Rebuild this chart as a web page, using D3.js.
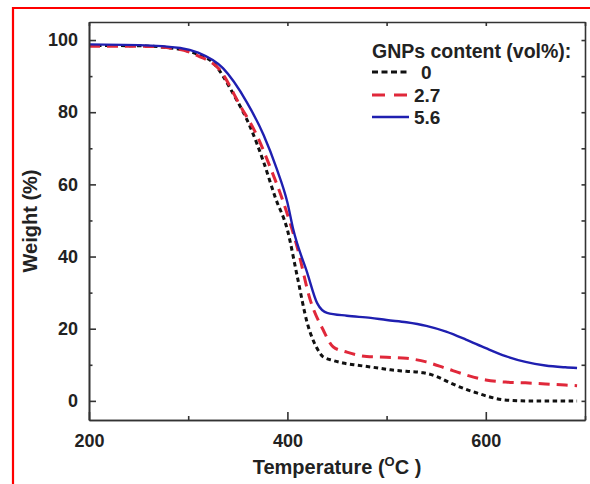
<!DOCTYPE html>
<html>
<head>
<meta charset="utf-8">
<script src="https://cdn.jsdelivr.net/npm/d3@7"></script>
<style>
  html, body { margin: 0; padding: 0; background: #fff; }
  svg { display: block; }
  text { font-family: "Liberation Sans", Arial, "DejaVu Sans", sans-serif; font-weight: bold; fill: #222; }
</style>
</head>
<body>
<script>
// ---------- data ----------
const temp0 = [200, 250, 290, 310, 324, 346, 363, 376, 388, 400, 410, 420, 430, 436, 446, 456, 470, 484, 504, 520, 537, 550, 564, 580, 591, 605, 618, 640, 660, 692];
const weight0 = [98.5, 98.4, 97.5, 96.0, 94.0, 84.8, 75.6, 66.2, 56.2, 47.4, 34.4, 21.6, 14.5, 12.2, 11.2, 10.5, 9.9, 9.4, 8.6, 8.2, 7.8, 6.8, 5.0, 3.2, 2.2, 1.0, 0.3, 0.0, 0.0, 0.0];

const temp27 = [200, 250, 290, 310, 332, 352, 369, 383, 396, 410, 423, 436, 446, 460, 480, 500, 520, 540, 560, 580, 600, 620, 640, 660, 680, 692];
const weight27 = [98.3, 98.3, 97.5, 95.6, 91.7, 82.0, 73.7, 64.5, 55.0, 42.5, 28.0, 19.7, 15.0, 13.5, 12.3, 12.1, 11.8, 10.8, 9.0, 7.2, 5.8, 5.2, 5.0, 4.7, 4.4, 4.2];

const temp56 = [200, 250, 292, 310, 335, 359, 376, 389, 400, 406, 420, 430, 440, 460, 484, 500, 520, 540, 560, 580, 600, 620, 640, 660, 680, 692];
const weight56 = [98.8, 98.6, 97.8, 96.5, 92.2, 82.8, 73.7, 64.5, 55.0, 47.4, 35.5, 27.1, 24.4, 23.6, 23.0, 22.4, 21.8, 20.8, 19.2, 17.0, 14.6, 12.4, 10.8, 9.8, 9.3, 9.1];

const seriesLabels = ["0", "2.7", "5.6"];
const legendTitle = "GNPs content (vol%):";
const xTicksMajor = [200, 400, 600];
const xTicksMinor = [300, 500, 700];
const yTicksMajor = [0, 20, 40, 60, 80, 100];
const yTicksMinor = [10, 30, 50, 70, 90];
const xTitle = "Temperature (";
const xTitleSup = "O";
const xTitleEnd = "C )";
const yTitle = "Weight (%)";

// ---------- layout ----------
const W = 590, H = 484;
const m = { left: 89, top: 22, right: 585, bottom: 420 };

const svg = d3.select("body").append("svg").attr("width", W).attr("height", H);
svg.append("rect").attr("width", W).attr("height", H).attr("fill", "#fff");

// red frame of the figure
svg.append("path")
  .attr("d", `M13,${H + 5} L13,8 L${W + 5},8`)
  .attr("fill", "none").attr("stroke", "#f00").attr("stroke-width", 2.2);

const x = d3.scaleLinear().domain([200, 700]).range([m.left, m.right]);
const y = d3.scaleLinear().domain([-5.3, 105]).range([m.bottom, m.top]);

const series = [
  { label: seriesLabels[0], t: temp0, w: weight0, color: "#111", dash: "4.5,3.5", width: 3 },
  { label: seriesLabels[1], t: temp27, w: weight27, color: "#e0283a", dash: "11,7", width: 3 },
  { label: seriesLabels[2], t: temp56, w: weight56, color: "#1f1fb0", dash: null, width: 2.4 }
];

const line = d3.line().x(d => x(d[0])).y(d => y(d[1])).curve(d3.curveMonotoneX);

const plot = svg.append("g");
series.forEach(s => {
  plot.append("path")
    .datum(s.t.map((t, i) => [t, s.w[i]]))
    .attr("d", line)
    .attr("fill", "none")
    .attr("stroke", s.color)
    .attr("stroke-width", s.width)
    .attr("stroke-dasharray", s.dash)
    .attr("stroke-linecap", "butt");
});

// ---------- axes ----------
const axisColor = "#333";
const fmt = d3.format("d");
function styleAxis(g) {
  g.select(".domain").attr("stroke", axisColor).attr("stroke-width", 1.6);
  g.selectAll(".tick line").attr("stroke", axisColor).attr("stroke-width", 1.6);
  g.selectAll(".tick text").attr("font-size", 18).attr("fill", "#222")
    .style("font-family", '"Liberation Sans", Arial, sans-serif').style("font-weight", "bold");
}

// bottom
svg.append("g").attr("transform", `translate(0,${m.bottom})`)
  .call(d3.axisBottom(x).tickValues(xTicksMajor).tickFormat(fmt).tickSizeInner(-8).tickSizeOuter(0).tickPadding(14))
  .call(styleAxis);
svg.append("g").attr("transform", `translate(0,${m.bottom})`)
  .call(d3.axisBottom(x).tickValues(xTicksMinor).tickFormat("").tickSizeInner(-4).tickSizeOuter(0))
  .call(styleAxis);
// top
svg.append("g").attr("transform", `translate(0,${m.top})`)
  .call(d3.axisTop(x).tickValues(xTicksMajor.concat(xTicksMinor)).tickFormat("").tickSizeInner(-4).tickSizeOuter(0))
  .call(styleAxis);
// left
svg.append("g").attr("transform", `translate(${m.left},0)`)
  .call(d3.axisLeft(y).tickValues(yTicksMajor).tickFormat(fmt).tickSizeInner(-7).tickSizeOuter(0).tickPadding(11))
  .call(styleAxis);
svg.append("g").attr("transform", `translate(${m.left},0)`)
  .call(d3.axisLeft(y).tickValues(yTicksMinor).tickFormat("").tickSizeInner(-3.5).tickSizeOuter(0))
  .call(styleAxis);
// right
svg.append("g").attr("transform", `translate(${m.right},0)`)
  .call(d3.axisRight(y).tickValues(yTicksMajor.concat(yTicksMinor)).tickFormat("").tickSizeInner(-3.5).tickSizeOuter(0))
  .call(styleAxis);

// ---------- titles ----------
const xt = svg.append("text")
  .attr("x", (m.left + m.right) / 2).attr("y", 474)
  .attr("text-anchor", "middle").attr("font-size", 20);
xt.append("tspan").text(xTitle);
xt.append("tspan").attr("font-size", 13).attr("dy", -8).text(xTitleSup);
xt.append("tspan").attr("dy", 8).text(xTitleEnd);

svg.append("text")
  .attr("transform", `translate(37,${(m.top + m.bottom) / 2}) rotate(-90)`)
  .attr("text-anchor", "middle").attr("font-size", 20)
  .text(yTitle);

// ---------- legend ----------
const lg = svg.append("g").attr("transform", "translate(372,0)");
lg.append("text").attr("x", 0).attr("y", 58).attr("font-size", 19.5).text(legendTitle);
const rowY = [72, 95, 117];
series.forEach((s, i) => {
  lg.append("line")
    .attr("x1", 0).attr("x2", 37).attr("y1", rowY[i]).attr("y2", rowY[i])
    .attr("stroke", s.color).attr("stroke-width", s.width)
    .attr("stroke-dasharray", i === 0 ? "6,3.5" : (i === 1 ? "13,9" : null));
  lg.append("text").attr("x", i === 0 ? 49 : 42).attr("y", rowY[i] + 6.5)
    .attr("font-size", 19).text(s.label);
});
</script>
</body>
</html>
